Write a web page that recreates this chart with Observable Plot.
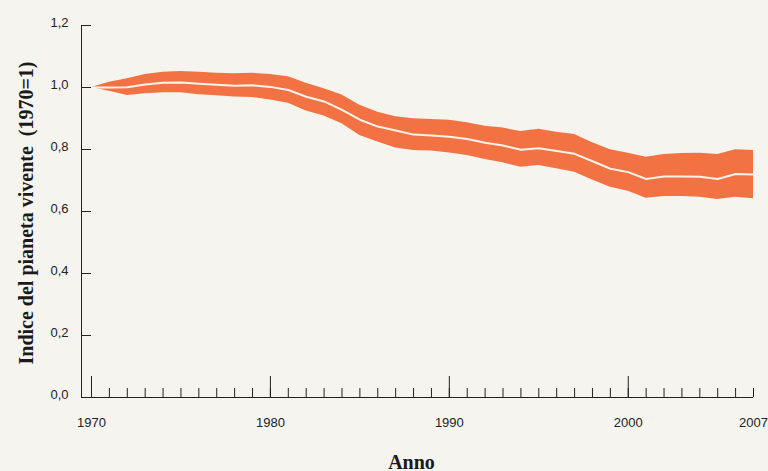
<!DOCTYPE html>
<html>
<head>
<meta charset="utf-8">
<script src="https://cdn.jsdelivr.net/npm/d3@7"></script>
<script src="https://cdn.jsdelivr.net/npm/@observablehq/plot@0.6"></script>
<style>
  html, body { margin: 0; padding: 0; background: #f5f4ee; }
  #chart { width: 768px; height: 471px; }
</style>
</head>
<body>
<div id="chart"></div>
<script>
const years = d3.range(1970, 2008);
const upper = [1.000, 1.017, 1.028, 1.042, 1.049, 1.052, 1.049, 1.046, 1.044, 1.046,
               1.042, 1.035, 1.014, 0.996, 0.976, 0.943, 0.920, 0.906, 0.899, 0.897,
               0.894, 0.886, 0.875, 0.869, 0.858, 0.865, 0.856, 0.848, 0.822, 0.799,
               0.788, 0.775, 0.784, 0.787, 0.788, 0.784, 0.799, 0.797];
const center = [1.000, 1.000, 1.001, 1.010, 1.015, 1.016, 1.012, 1.009, 1.006, 1.007,
                1.002, 0.992, 0.970, 0.955, 0.928, 0.896, 0.874, 0.861, 0.848, 0.845,
                0.841, 0.834, 0.822, 0.813, 0.799, 0.804, 0.795, 0.786, 0.762, 0.738,
                0.727, 0.705, 0.713, 0.713, 0.712, 0.705, 0.721, 0.719];
const lower = [1.000, 0.988, 0.974, 0.980, 0.983, 0.983, 0.977, 0.973, 0.969, 0.968,
               0.960, 0.949, 0.924, 0.908, 0.883, 0.845, 0.824, 0.805, 0.797, 0.795,
               0.789, 0.781, 0.768, 0.757, 0.743, 0.748, 0.738, 0.727, 0.702, 0.678,
               0.665, 0.643, 0.648, 0.648, 0.646, 0.639, 0.646, 0.641];
const yTicks = [0, 0.2, 0.4, 0.6, 0.8, 1.0, 1.2];
const majorYears = [1970, 1980, 1990, 2000];
const labelYears = [1970, 1980, 1990, 2000, 2007];
const yTitle = "Indice del pianeta vivente\u00a0 (1970=1)";
const xTitle = "Anno";

const data = years.map((y, i) => ({year: y, lo: lower[i], mid: center[i], hi: upper[i]}));
const x0 = 1970 - 10 / ((753 - 91) / 37);
const comma = d => d3.format(".1f")(d).replace(".", ",");
const serif = "'Liberation Serif', 'Times New Roman', serif";

const chart = Plot.plot({
  width: 768,
  height: 471,
  marginLeft: 81,
  marginRight: 15,
  marginTop: 25,
  marginBottom: 74,
  style: {background: "#f5f4ee", fontFamily: "'Liberation Sans', Arial, sans-serif", fontSize: "13px", color: "#222"},
  x: {domain: [x0, 2007]},
  y: {domain: [0, 1.2]},
  marks: [
    Plot.areaY(data, {x: "year", y1: "lo", y2: "hi", fill: "#f27244"}),
    Plot.line(data, {x: "year", y: "mid", stroke: "#fbf3ea", strokeWidth: 2}),
    Plot.ruleX([x0], {stroke: "#222"}),
    Plot.ruleY([0], {stroke: "#222"}),
    Plot.axisY({ticks: yTicks, tickSize: -10, tickFormat: () => "", label: null, stroke: "#222"}),
    Plot.axisY({ticks: yTicks, tickSize: 0, tickPadding: 13, dy: -3, tickFormat: comma, label: null, fill: "#222", fontSize: 13}),
    Plot.axisX({ticks: years, tickSize: -9, tickFormat: () => "", label: null, stroke: "#222"}),
    Plot.axisX({ticks: majorYears, tickSize: -21, tickFormat: () => "", label: null, stroke: "#222"}),
    Plot.axisX({ticks: labelYears, tickSize: 0, tickPadding: 20, tickFormat: "d", label: null, fill: "#222", fontSize: 13}),
    Plot.text([xTitle], {frameAnchor: "bottom", textAnchor: "middle", dx: -6, dy: 71, lineAnchor: "bottom",
      fontFamily: serif, fontSize: 20, fontWeight: "bold", fill: "#1a1a1a"}),
    Plot.text([yTitle], {frameAnchor: "left", textAnchor: "middle", dx: -54.5, dy: 1.5, rotate: -90, lineAnchor: "middle",
      fontFamily: serif, fontSize: 20, fontWeight: "bold", fill: "#1a1a1a"})
  ]
});
document.getElementById("chart").append(chart);
</script>
</body>
</html>
